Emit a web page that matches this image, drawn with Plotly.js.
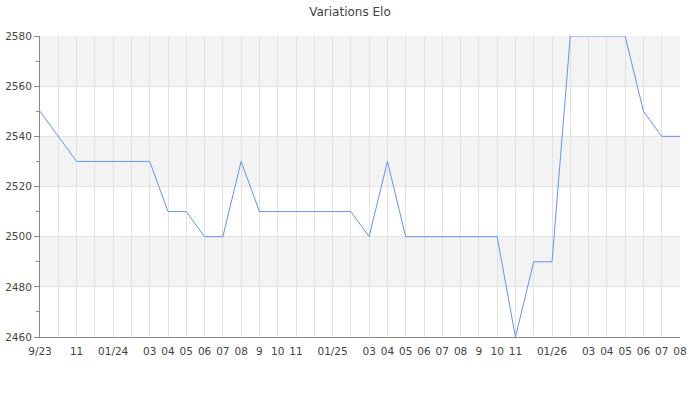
<!DOCTYPE html>
<html>
<head>
<meta charset="utf-8">
<script src="https://cdn.plot.ly/plotly-3.0.1.min.js"></script>
<style>html,body{margin:0;padding:0;background:#fff;}#chart{width:700px;height:400px;}</style>
</head>
<body>
<div id="chart"></div>
<script>
// One point per month, Sept 2023 .. Aug 2026
var months = ["2023-09","2023-10","2023-11","2023-12","2024-01","2024-02","2024-03","2024-04","2024-05","2024-06","2024-07","2024-08",
              "2024-09","2024-10","2024-11","2024-12","2025-01","2025-02","2025-03","2025-04","2025-05","2025-06","2025-07","2025-08",
              "2025-09","2025-10","2025-11","2025-12","2026-01","2026-02","2026-03","2026-04","2026-05","2026-06","2026-07","2026-08"];
var tickLabels = ["9/23","","11","","01/24","","03","04","05","06","07","08",
                  "9","10","11","","01/25","","03","04","05","06","07","08",
                  "9","10","11","","01/26","","03","04","05","06","07","08"];
var elo = [2550,2540,2530,2530,2530,2530,2530,2510,2510,2500,2500,2530,
           2510,2510,2510,2510,2510,2510,2500,2530,2500,2500,2500,2500,
           2500,2500,2460,2490,2490,2580,2580,2580,2580,2550,2540,2540];
var bandEdges = [2460,2480,2500,2520,2540,2560,2580];

var idx = months.map(function(m,i){return i;});
var shapes = [];
for (var b = 0; b < bandEdges.length - 1; b++) {
  if ((bandEdges.length - 2 - b) % 2 === 0) {
    shapes.push({type:'rect', xref:'paper', yref:'y', x0:0, x1:1, y0:bandEdges[b], y1:bandEdges[b+1],
                 fillcolor:'#f3f3f3', line:{width:0}, layer:'below'});
  }
}

var trace = {
  x: idx, y: elo, type:'scatter', mode:'lines',
  line:{color:'#6495ed', width:1},
  text: months, hoverinfo:'text+y'
};

var layout = {
  width:700, height:400,
  margin:{l:40, r:20, t:36, b:63},
  paper_bgcolor:'#fff', plot_bgcolor:'rgba(0,0,0,0)',
  font:{family:'DejaVu Sans, sans-serif', size:10.5, color:'#444'},
  title:{text:'Variations Elo', x:0.5, xanchor:'center', y:0.97, yanchor:'middle', font:{size:12, color:'#444'}},
  showlegend:false,
  shapes: shapes,
  xaxis:{
    range:[0, months.length-1], tickmode:'array', tickvals:idx, ticktext:tickLabels,
    showgrid:true, gridcolor:'#e2e2e2', gridwidth:1,
    showline:true, linecolor:'#888', linewidth:1,
    ticks:'outside', ticklen:4, tickcolor:'rgba(0,0,0,0)', zeroline:false, fixedrange:true, tickangle:0
  },
  yaxis:{
    range:[2460, 2580], dtick:20, tick0:2460,
    showgrid:true, gridcolor:'#e2e2e2', gridwidth:1,
    showline:true, linecolor:'#888', linewidth:1,
    ticks:'outside', ticklen:5, tickcolor:'#888',
    minor:{dtick:10, tick0:2460, ticks:'outside', ticklen:3, tickcolor:'#888', showgrid:false},
    zeroline:false, fixedrange:true
  }
};
Plotly.newPlot('chart', [trace], layout, {displayModeBar:false, staticPlot:true});
</script>
</body>
</html>
